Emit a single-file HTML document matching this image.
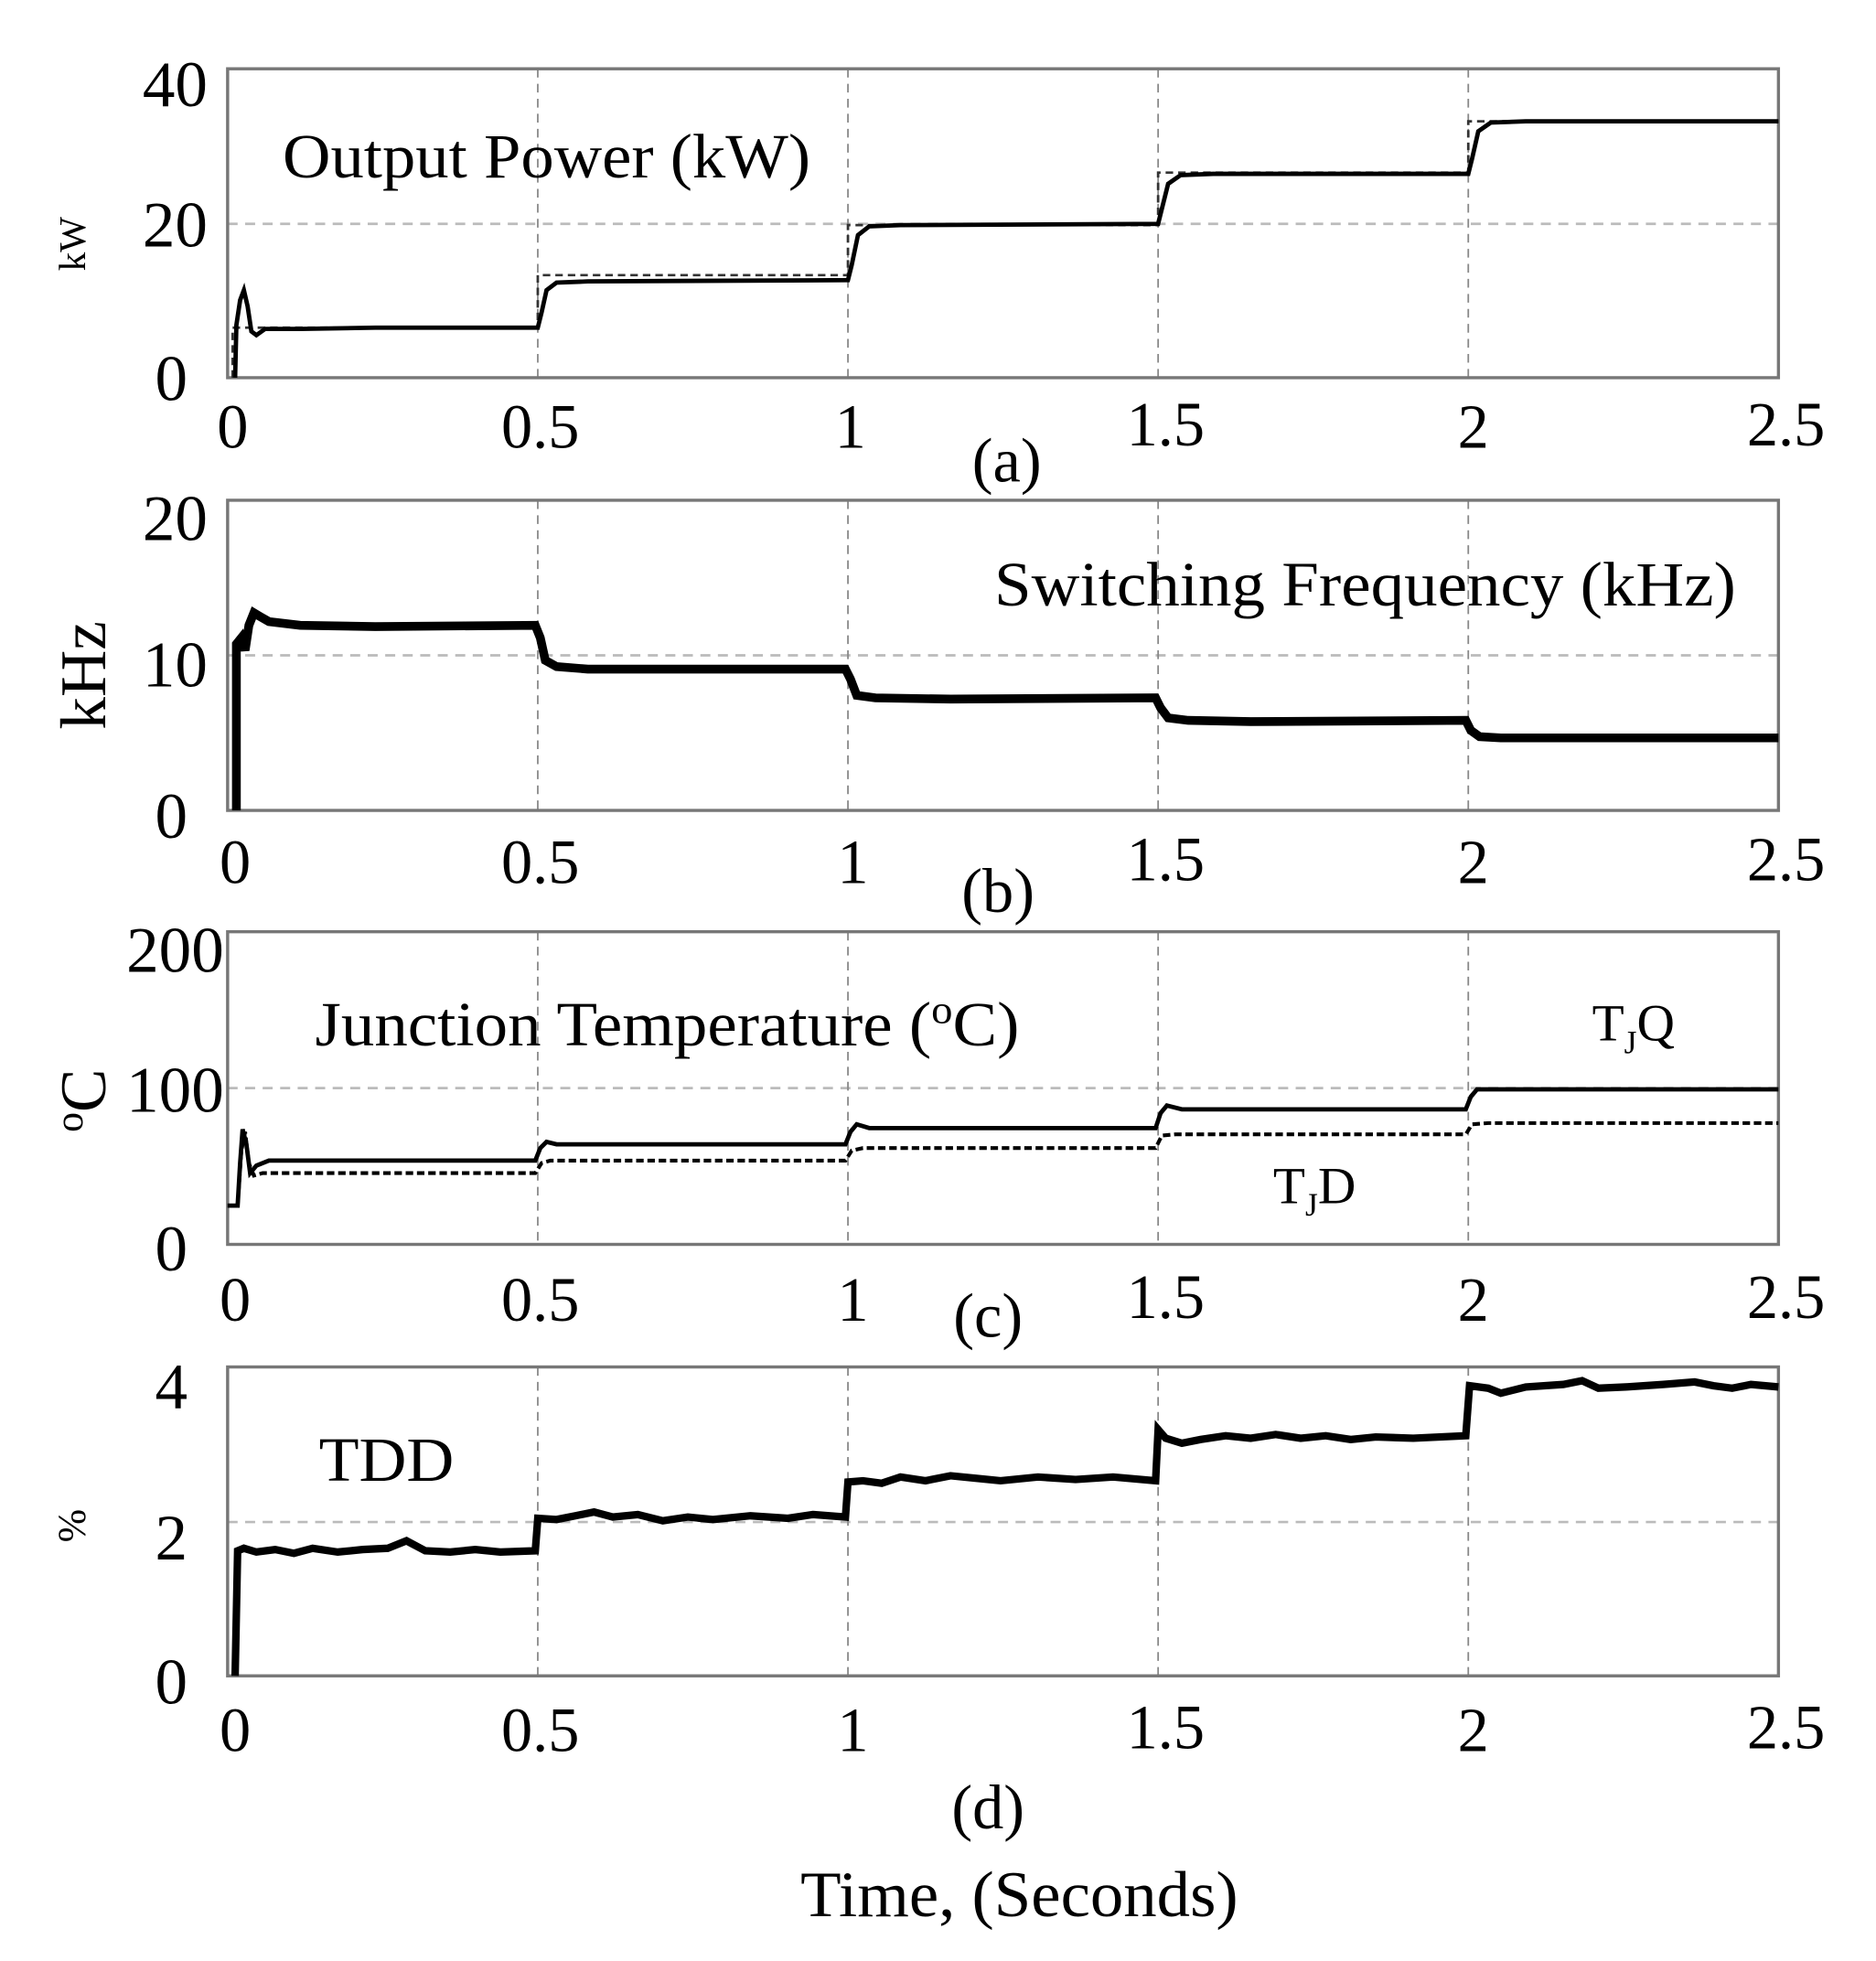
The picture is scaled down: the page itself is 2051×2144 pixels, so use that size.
<!DOCTYPE html>
<html><head><meta charset="utf-8"><style>
html,body{margin:0;padding:0;background:#fff}
svg{display:block}
text{font-family:"Liberation Serif",serif;fill:#000}
</style></head><body>
<svg width="2051" height="2144" viewBox="0 0 1500 1568" preserveAspectRatio="none" xmlns="http://www.w3.org/2000/svg">
<!-- ===== (a) ===== -->
<g>
<line x1="182" y1="179" x2="1422" y2="179" stroke="#bbb" stroke-width="2" stroke-dasharray="8,6"/>
<g stroke="#888" stroke-width="1.3" stroke-dasharray="7,5"><line x1="430" y1="55" x2="430" y2="302"/><line x1="678" y1="55" x2="678" y2="302"/><line x1="926" y1="55" x2="926" y2="302"/><line x1="1174" y1="55" x2="1174" y2="302"/></g>
<rect x="182" y="55" width="1240" height="247" fill="none" stroke="#777" stroke-width="2.5"/>
<path d="M186 302 L186 262 L430 262 L430 220 L678 220 L678 180 L926 180 L926 138 L1174 138 L1174 97 L1422 97" fill="none" stroke="#333" stroke-width="2" stroke-dasharray="6,4"/>
<path d="M188 302 L189 260 L192 240 L195 232 L198 245 L201 265 L205 268 L212 263 L240 263 L300 262 L430 262 L433 250 L437 232 L445 226 L470 225 L678 224 L681 212 L686 188 L695 181 L720 180 L926 179 L929 167 L934 147 L944 140 L970 139 L1174 139 L1177 127 L1182 105 L1192 98 L1220 97 L1422 97" fill="none" stroke="#000" stroke-width="3.5"/>
<g font-size="52" text-anchor="end"><text x="166" y="85">40</text><text x="166" y="197">20</text><text x="150" y="320">0</text></g>
<text transform="translate(68,195) rotate(-90)" font-size="30" text-anchor="middle">kW</text>
<text x="226" y="142" font-size="50" textLength="422" lengthAdjust="spacingAndGlyphs">Output Power (kW)</text>
<g font-size="50" text-anchor="middle"><text x="186" y="358">0</text><text x="432" y="358">0.5</text><text x="680" y="358">1</text><text x="932" y="356">1.5</text><text x="1178" y="358">2</text><text x="1428" y="356">2.5</text></g>
<text x="805" y="385" font-size="50" text-anchor="middle">(a)</text>
</g>
<!-- ===== (b) ===== -->
<g>
<line x1="182" y1="524" x2="1422" y2="524" stroke="#bbb" stroke-width="2" stroke-dasharray="8,6"/>
<g stroke="#888" stroke-width="1.3" stroke-dasharray="7,5"><line x1="430" y1="400" x2="430" y2="648"/><line x1="678" y1="400" x2="678" y2="648"/><line x1="926" y1="400" x2="926" y2="648"/><line x1="1174" y1="400" x2="1174" y2="648"/></g>
<rect x="182" y="400" width="1240" height="248" fill="none" stroke="#777" stroke-width="2.5"/>
<path d="M189 648 L189 515 L193 510 L196 520 L199 500 L203 490 L208 493 L215 497 L240 500 L300 501 L428 500 L432 510 L436 528 L445 533 L470 535 L676 535 L680 543 L685 556 L700 558 L760 559 L924 558 L928 566 L934 574 L950 576 L1000 577 L1172 576 L1176 584 L1183 589 L1200 590 L1422 590" fill="none" stroke="#000" stroke-width="7"/>
<g font-size="52" text-anchor="end"><text x="166" y="432">20</text><text x="166" y="549">10</text><text x="150" y="670">0</text></g>
<text transform="translate(84,540) rotate(-90)" font-size="52" text-anchor="middle">kHz</text>
<text x="795" y="484" font-size="50" textLength="593" lengthAdjust="spacingAndGlyphs">Switching Frequency (kHz)</text>
<g font-size="50" text-anchor="middle"><text x="188" y="706">0</text><text x="432" y="706">0.5</text><text x="682" y="706">1</text><text x="932" y="704">1.5</text><text x="1178" y="706">2</text><text x="1428" y="704">2.5</text></g>
<text x="798" y="729" font-size="50" text-anchor="middle">(b)</text>
</g>
<!-- ===== (c) ===== -->
<g>
<line x1="182" y1="870" x2="1422" y2="870" stroke="#bbb" stroke-width="2" stroke-dasharray="8,6"/>
<g stroke="#888" stroke-width="1.3" stroke-dasharray="7,5"><line x1="430" y1="745" x2="430" y2="995"/><line x1="678" y1="745" x2="678" y2="995"/><line x1="926" y1="745" x2="926" y2="995"/><line x1="1174" y1="745" x2="1174" y2="995"/></g>
<rect x="182" y="745" width="1240" height="250" fill="none" stroke="#777" stroke-width="2.5"/>
<path d="M182 964 L190 964 L193 920 L196 905 L199 930 L203 940 L210 938 L260 938 L428 938 L433 930 L440 928 L676 928 L681 920 L690 918 L924 918 L929 908 L940 907 L1172 907 L1177 899 L1190 898 L1422 898" fill="none" stroke="#000" stroke-width="3" stroke-dasharray="6,3"/>
<path d="M182 964 L190 964 L192 930 L194 903 L197 915 L200 938 L205 932 L215 928 L428 928 L432 918 L437 913 L445 915 L676 915 L680 905 L685 899 L695 902 L924 902 L928 890 L933 884 L945 887 L1172 887 L1176 877 L1181 871 L1195 871 L1422 871" fill="none" stroke="#000" stroke-width="3.5"/>
<g font-size="52" text-anchor="end"><text x="179" y="777">200</text><text x="179" y="889">100</text><text x="150" y="1016">0</text></g>
<text transform="translate(84,880) rotate(-90)" font-size="52" text-anchor="middle"><tspan font-size="32" dy="-18">o</tspan><tspan dy="18">C</tspan></text>
<text x="252" y="836" font-size="50" textLength="563" lengthAdjust="spacingAndGlyphs">Junction Temperature (<tspan font-size="32" dy="-18">o</tspan><tspan dy="18">C)</tspan></text>
<text x="1273" y="832" font-size="42">T<tspan font-size="26" dy="10">J</tspan><tspan dy="-10">Q</tspan></text>
<text x="1018" y="962" font-size="42">T<tspan font-size="26" dy="10">J</tspan><tspan dy="-10">D</tspan></text>
<g font-size="50" text-anchor="middle"><text x="188" y="1056">0</text><text x="432" y="1056">0.5</text><text x="682" y="1056">1</text><text x="932" y="1054">1.5</text><text x="1178" y="1056">2</text><text x="1428" y="1054">2.5</text></g>
<text x="790" y="1069" font-size="50" text-anchor="middle">(c)</text>
</g>
<!-- ===== (d) ===== -->
<g>
<line x1="182" y1="1217" x2="1422" y2="1217" stroke="#bbb" stroke-width="2" stroke-dasharray="8,6"/>
<g stroke="#888" stroke-width="1.3" stroke-dasharray="7,5"><line x1="430" y1="1093" x2="430" y2="1340"/><line x1="678" y1="1093" x2="678" y2="1340"/><line x1="926" y1="1093" x2="926" y2="1340"/><line x1="1174" y1="1093" x2="1174" y2="1340"/></g>
<rect x="182" y="1093" width="1240" height="247" fill="none" stroke="#777" stroke-width="2.5"/>
<path d="M188 1340 L190 1240 L195 1238 L205 1241 L220 1239 L235 1242 L250 1238 L270 1241 L290 1239 L310 1238 L325 1232 L340 1240 L360 1241 L380 1239 L400 1241 L428 1240 L430 1214 L445 1215 L460 1212 L475 1209 L490 1213 L510 1211 L530 1216 L550 1213 L570 1215 L600 1212 L630 1214 L650 1211 L676 1213 L678 1185 L690 1184 L705 1186 L720 1181 L740 1184 L760 1180 L780 1182 L800 1184 L830 1181 L860 1183 L890 1181 L924 1184 L926 1143 L932 1150 L945 1154 L960 1151 L980 1148 L1000 1150 L1020 1147 L1040 1150 L1060 1148 L1080 1151 L1100 1149 L1130 1150 L1172 1148 L1175 1108 L1190 1110 L1200 1114 L1220 1109 L1250 1107 L1265 1104 L1278 1110 L1300 1109 L1330 1107 L1355 1105 L1370 1108 L1385 1110 L1400 1107 L1422 1109" fill="none" stroke="#000" stroke-width="6"/>
<g font-size="52" text-anchor="end"><text x="150" y="1126">4</text><text x="150" y="1247">2</text><text x="150" y="1362">0</text></g>
<text transform="translate(68,1220) rotate(-90)" font-size="32" text-anchor="middle">%</text>
<text x="255" y="1184" font-size="50" textLength="108" lengthAdjust="spacingAndGlyphs">TDD</text>
<g font-size="50" text-anchor="middle"><text x="188" y="1400">0</text><text x="432" y="1400">0.5</text><text x="682" y="1400">1</text><text x="932" y="1398">1.5</text><text x="1178" y="1400">2</text><text x="1428" y="1398">2.5</text></g>
<text x="790" y="1462" font-size="50" text-anchor="middle">(d)</text>
<text x="640" y="1532" font-size="52" textLength="350" lengthAdjust="spacingAndGlyphs">Time, (Seconds)</text>
</g>
</svg>
</body></html>
